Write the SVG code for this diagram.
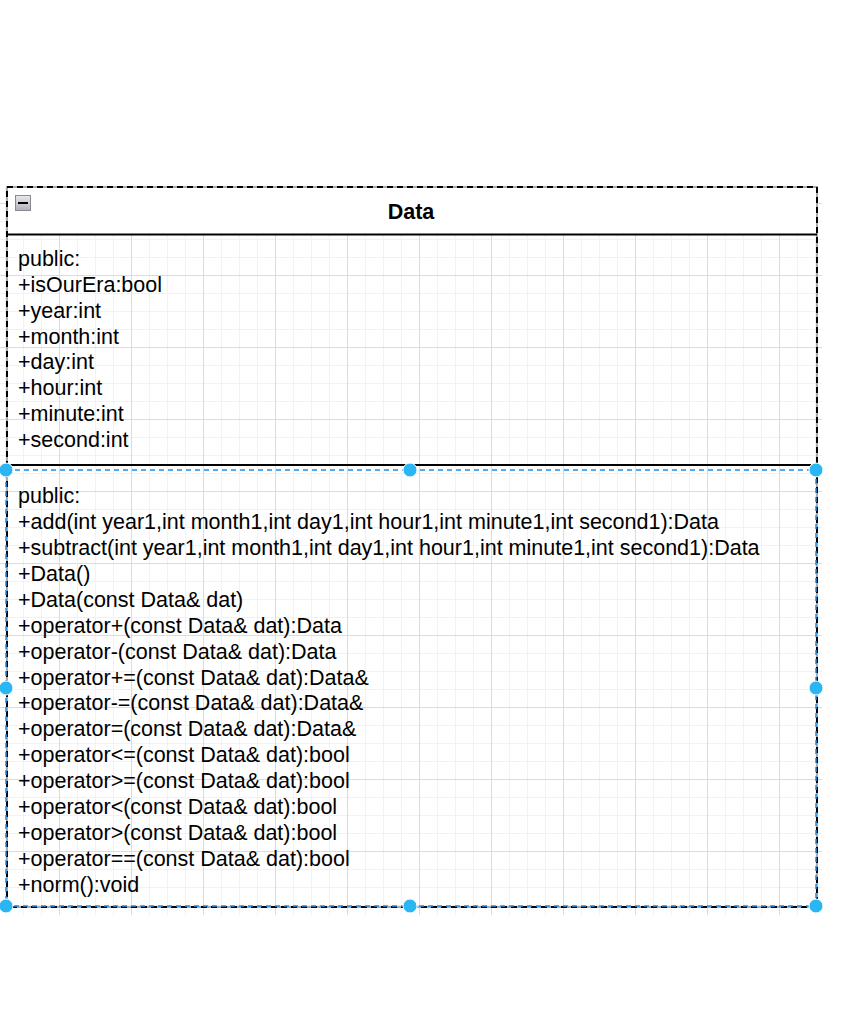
<svg xmlns="http://www.w3.org/2000/svg" width="864" height="1012" viewBox="0 0 864 1012">
<defs>
<pattern id="minor" x="5" y="5" width="18" height="18" patternUnits="userSpaceOnUse">
<path d="M0 0.5H18M0.5 0V18" fill="none" stroke="#f2f2f2" stroke-width="1"/>
</pattern>
<pattern id="major" x="59" y="59" width="72" height="72" patternUnits="userSpaceOnUse">
<path d="M0 0.5H72M0.5 0V72" fill="none" stroke="#dcdcdc" stroke-width="1"/>
</pattern>
<linearGradient id="btn" x1="0" y1="0" x2="0" y2="1">
<stop offset="0" stop-color="#e8e8ec"/>
<stop offset="1" stop-color="#b0b0b8"/>
</linearGradient>
</defs>
<style>
.t{font-family:"Liberation Sans",Arial,sans-serif;font-size:21.5px;fill:#000}
.h{font-family:"Liberation Sans",Arial,sans-serif;font-size:21.5px;font-weight:bold;fill:#000}
.hd{fill:#29b6f2;stroke:#fff;stroke-width:1}
</style>
<rect width="864" height="1012" fill="#fff"/>
<rect x="0" y="187" width="822" height="728" fill="url(#minor)"/>
<rect x="0" y="187" width="822" height="728" fill="url(#major)"/>
<g id="class-Data">
<rect x="7" y="187" width="810" height="47" fill="#fff"/>
<rect x="7" y="187" width="810" height="720" fill="none" stroke="#aaa" stroke-width="2"/>
<rect x="7" y="187" width="810" height="720" fill="none" stroke="#000" stroke-width="2" stroke-dasharray="6 4"/>
<line x1="7" y1="234.5" x2="817" y2="234.5" stroke="#000" stroke-width="2"/>
<rect x="15.5" y="195.5" width="15" height="15" fill="url(#btn)" stroke="#8a8a94" stroke-width="1"/>
<line x1="18" y1="203" x2="28" y2="203" stroke="#000" stroke-width="2"/>
<text class="h" x="411" y="218.5" text-anchor="middle">Data</text>
<g class="t">
<text x="18" y="265.5">public:</text>
<text x="18" y="291.5">+isOurEra:bool</text>
<text x="18" y="317.5">+year:int</text>
<text x="18" y="343.5">+month:int</text>
<text x="18" y="368.5">+day:int</text>
<text x="18" y="394.5">+hour:int</text>
<text x="18" y="420.5">+minute:int</text>
<text x="18" y="446.5">+second:int</text>
</g>
<line x1="7" y1="465" x2="811" y2="465" stroke="#000" stroke-width="2"/>
<g class="t">
<text x="18" y="502.5">public:</text>
<text x="18" y="528.5">+add(int year1,int month1,int day1,int hour1,int minute1,int second1):Data</text>
<text x="18" y="554.5">+subtract(int year1,int month1,int day1,int hour1,int minute1,int second1):Data</text>
<text x="18" y="580.5">+Data()</text>
<text x="18" y="606.5">+Data(const Data&amp; dat)</text>
<text x="18" y="632.5">+operator+(const Data&amp; dat):Data</text>
<text x="18" y="658.5">+operator-(const Data&amp; dat):Data</text>
<text x="18" y="684.5">+operator+=(const Data&amp; dat):Data&amp;</text>
<text x="18" y="709.5">+operator-=(const Data&amp; dat):Data&amp;</text>
<text x="18" y="735.5">+operator=(const Data&amp; dat):Data&amp;</text>
<text x="18" y="761.5">+operator&lt;=(const Data&amp; dat):bool</text>
<text x="18" y="787.5">+operator&gt;=(const Data&amp; dat):bool</text>
<text x="18" y="813.5">+operator&lt;(const Data&amp; dat):bool</text>
<text x="18" y="839.5">+operator&gt;(const Data&amp; dat):bool</text>
<text x="18" y="865.5">+operator==(const Data&amp; dat):bool</text>
<text x="18" y="891.5">+norm():void</text>
</g>
</g>
<g id="selection">
<rect x="6" y="470" width="810" height="436" fill="none" stroke="#1e90e8" stroke-width="1.5" stroke-dasharray="5 4"/>
<circle class="hd" cx="6" cy="470" r="7"/>
<circle class="hd" cx="410" cy="470" r="7"/>
<circle class="hd" cx="816" cy="470" r="7"/>
<circle class="hd" cx="6" cy="688" r="7"/>
<circle class="hd" cx="816" cy="688" r="7"/>
<circle class="hd" cx="6" cy="906" r="7"/>
<circle class="hd" cx="410" cy="906" r="7"/>
<circle class="hd" cx="816" cy="906" r="7"/>
</g>
<g id="connectors"/>
</svg>
